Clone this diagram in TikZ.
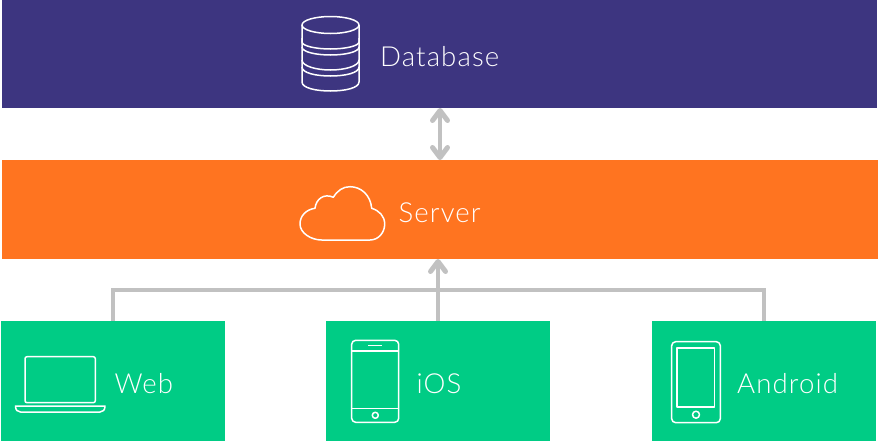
\documentclass[tikz,border=0pt]{standalone}
\usepackage{fontspec}
\setmainfont[LetterSpace=4]{Lato Light}
\usetikzlibrary{arrows.meta}
\definecolor{dbc}{HTML}{3D3580}
\definecolor{srv}{HTML}{FF7420}
\definecolor{cli}{HTML}{00CC85}
\definecolor{con}{HTML}{C1C1C1}
\tikzset{
  band/.style={draw=none,inner sep=0pt,outer sep=0pt,minimum height=#1},
  label/.style={anchor=base west,text=white,inner sep=0pt,font=\fontsize{27.6}{32}\selectfont},
  icon/.style={draw=white,line width=1.5pt,fill=none,line join=round},
  link/.style={draw=con,line width=4pt},
  tip/.style={-{Straight Barb[length=10pt,width=15pt,line width=5pt,round]}},
  tips/.style={{Straight Barb[length=10pt,width=15pt,line width=5pt,round]}-{Straight Barb[length=10pt,width=15pt,line width=5pt,round]}}
}
\begin{document}
\begin{tikzpicture}[x=1pt,y=-1pt]
\useasboundingbox (0,0) rectangle (878,442);
\node[band=108pt,fill=dbc,minimum width=875pt] (db) at (439.5,54) {};
\node[band=99pt,fill=srv,minimum width=876pt] (server) at (440,209.5) {};
\node[band=120pt,fill=cli,minimum width=224pt] (web) at (113,381) {};
\node[band=120pt,fill=cli,minimum width=224pt] (ios) at (438,381) {};
\node[band=120pt,fill=cli,minimum width=224pt] (android) at (764,381) {};
% connectors
\coordinate (bus) at (438,290);
\draw[link,line join=miter] (web.north) |- (bus) -| (android.north);
\draw[link,tip] (ios.north) -- (server.south -| ios.north);
\draw[link,tips] (server.north |- db.south) -- (server.north);
% labels
\node[label] (tdb) at (380,66) {Database};
\node[label] (tsrv) at (398.5,222) {Server};
\node[label] (tweb) at (114.5,393) {Web};
\node[label] (tios) at (416.5,393) {iOS};
\node[label] (tand) at (737,393) {Android};
% database icon
\draw[icon] (330.5,25) ellipse [x radius=28.5,y radius=8.5];
\draw[icon] (302,25) -- (302,42) .. controls (302,46) and (316,49) .. (330.5,49) .. controls (345,49) and (359,46) .. (359,42) -- (359,25);
\draw[icon] (302,38) -- (302,47) .. controls (302,52) and (316,55) .. (330.5,55) .. controls (345,55) and (359,52) .. (359,47) -- (359,38);
\draw[icon] (302,47) -- (302,60) .. controls (302,66) and (316,70) .. (330.5,70) .. controls (345,70) and (359,66) .. (359,60) -- (359,47);
\draw[icon] (302,60) -- (302,67) .. controls (302,73) and (316,76) .. (330.5,76) .. controls (345,76) and (359,73) .. (359,67) -- (359,60);
\draw[icon] (302,67) -- (302,82) .. controls (302,88) and (316,91) .. (330.5,91) .. controls (345,91) and (359,88) .. (359,82) -- (359,67);
% cloud icon
\draw[icon] (321.7,240) -- (370,240)
  .. controls (378.5,240) and (384.7,232.5) .. (384.7,224)
  .. controls (384.7,216) and (379,210.5) .. (371.7,208.3)
  .. controls (370.5,195) and (361,186.7) .. (350,186.7)
  .. controls (343,186.7) and (337.5,190.5) .. (333.3,197.3)
  .. controls (324,193) and (316,199) .. (315,208.3)
  .. controls (306,209.5) and (300,216) .. (300,224)
  .. controls (300,233) and (311,240) .. (321.7,240) -- cycle;
% laptop icon
\draw[icon,rounded corners=2pt] (25,356.7) rectangle (95.3,402.7);
\draw[icon] (15.5,406) -- (105,406) .. controls (105,410) and (103,412) .. (100,412) -- (20.5,412) .. controls (17.5,412) and (15.5,410) .. (15.5,406) -- cycle;
% iPhone icon
\draw[icon,rounded corners=4pt] (351.7,340.3) rectangle (398.7,422.3);
\draw[icon] (351.7,351) -- (398.7,351);
\draw[icon] (351.7,408.3) -- (398.7,408.3);
\draw[icon] (368.3,345.7) -- (382,345.7);
\draw[icon] (375.3,415.3) circle [radius=3];
% Android icon
\draw[icon,rounded corners=4pt] (671.7,341.7) rectangle (720.3,422.7);
\draw[icon] (677,348) rectangle (714.7,407);
\draw[icon] (696,414.7) circle [radius=3.5];
\end{tikzpicture}
\end{document}
